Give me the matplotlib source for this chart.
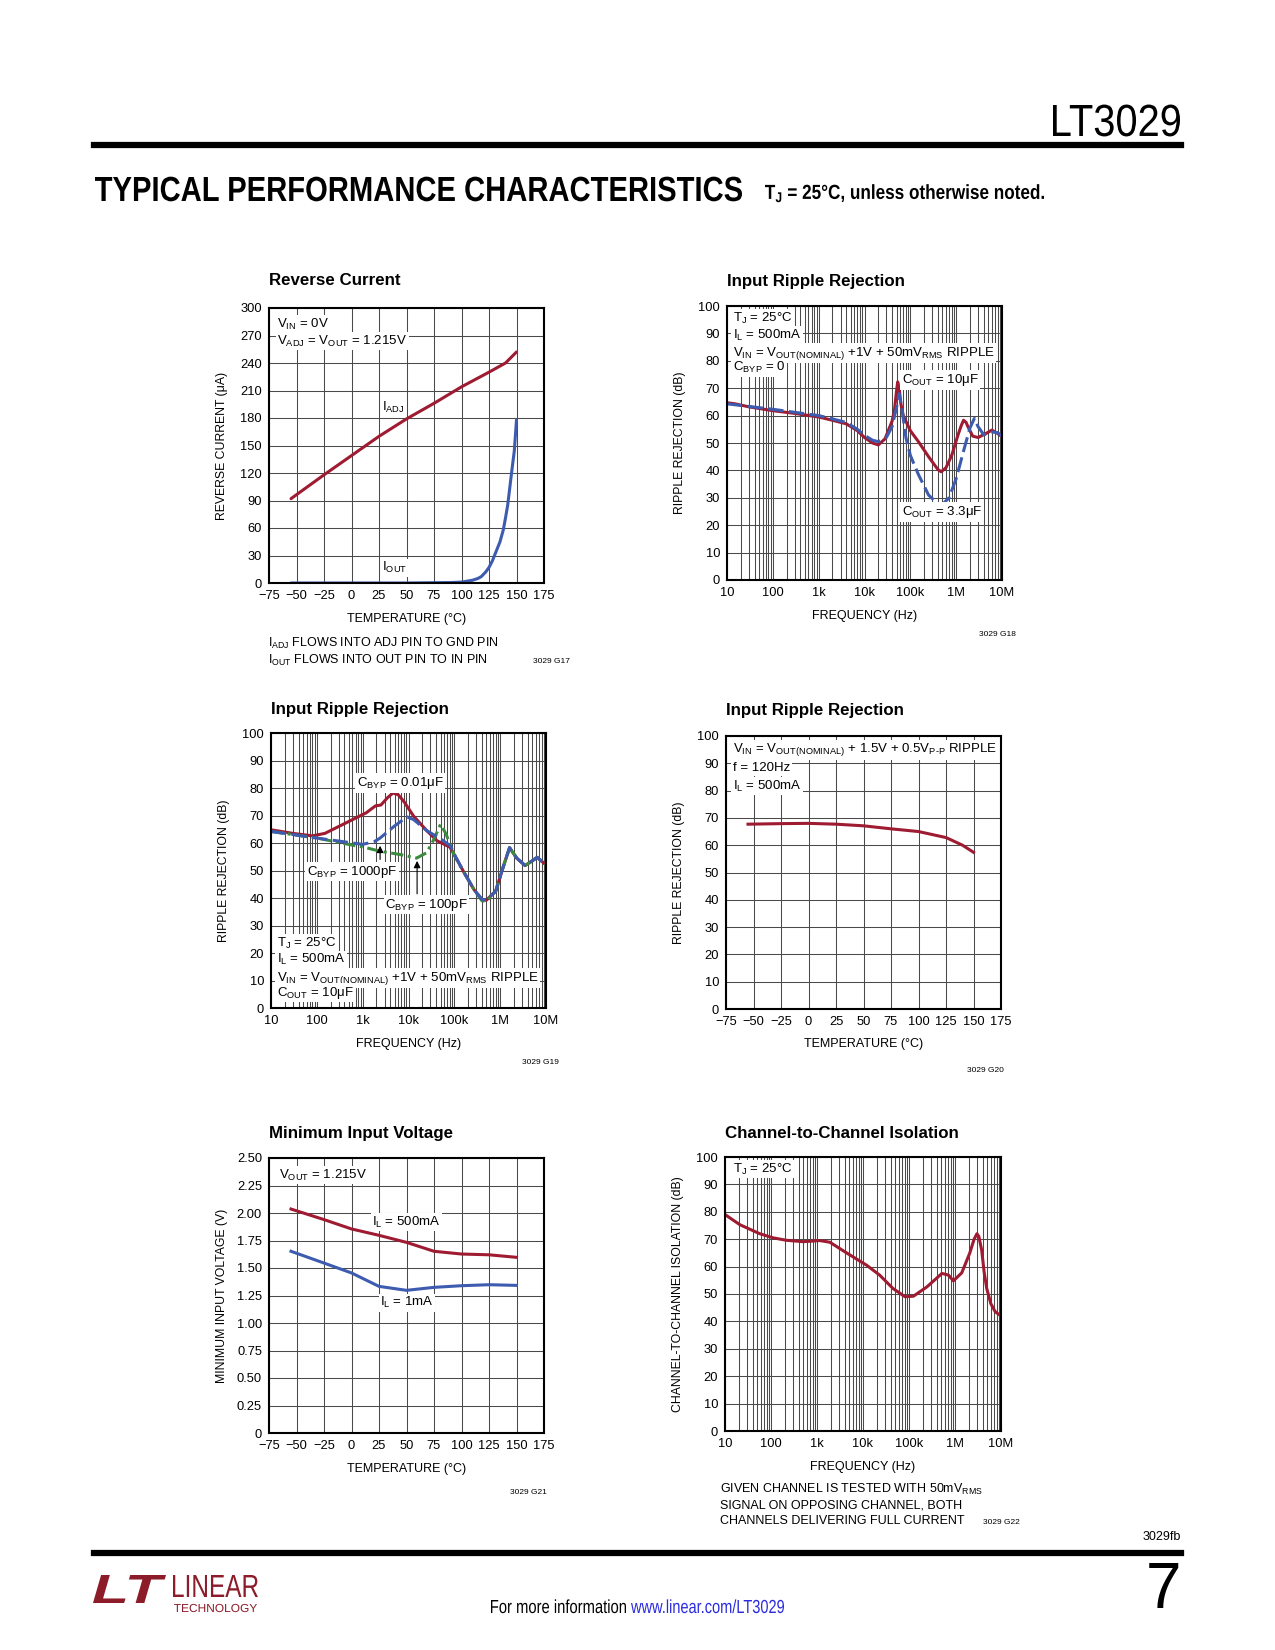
import matplotlib
matplotlib.use("Agg")
import matplotlib.pyplot as plt
from matplotlib.ticker import LogLocator, NullFormatter
from matplotlib.lines import Line2D
from matplotlib.textpath import TextPath
from matplotlib.patches import PathPatch
from matplotlib.font_manager import FontProperties
from matplotlib.transforms import Affine2D

BASE = "Liberation Sans"
plt.rcParams["font.family"] = [BASE, "DejaVu Sans"]
plt.rcParams["mathtext.default"] = "regular"

RED = "#9E1B32"
BLUE = "#3D5BAF"
GREEN = "#3C8C3F"
GRID = "#4a4a4a"

# ---------------- data ----------------
# reverse current vs temperature
rc_temp_adj = [-55, -25, 0, 25, 50, 75, 100, 125, 140, 150]
rc_iadj = [92, 118, 139, 160, 179, 196, 214, 230, 240, 252]
rc_temp_out = [-55, 0, 50, 90, 100, 105, 110, 115, 118, 122, 125, 128, 132, 135, 138,
               140, 142, 145, 146, 148, 150]
rc_iout = [0, 0, 0, 0.5, 1, 2, 3, 5, 7, 12, 17, 24, 36, 45, 58,
           71, 85, 115, 125, 144, 178]

# input ripple rejection, CBYP = 0
rr_freq_10u = [10, 15, 30, 100, 300, 1e3, 2e3, 4e3, 7e3, 1e4, 1.5e4, 2e4, 2.8e4, 4e4,
               4.5e4, 5e4, 5.3e4, 5.7e4, 6.2e4, 7e4, 1e5, 1.5e5, 2.5e5, 4e5, 4.7e5, 6e5,
               8e5, 1.1e6, 1.3e6, 1.45e6, 1.65e6, 1.8e6, 2.3e6, 3e6, 4.5e6, 6e6, 8e6, 1e7]
rr_db_10u = [64.7, 64.3, 63.2, 61.8, 60.8, 59.5, 58.3, 57, 54.5, 52, 50, 49.3, 51.5, 58,
             62, 69, 72.3, 70, 64.5, 60, 54.5, 50.5, 45, 40.3, 39.5, 41,
             45.5, 53, 56.5, 58.3, 57.5, 56, 52.5, 52, 53.5, 54.7, 53.5, 52.3]
rr_freq_3u3 = [10, 100, 1e3, 2e3, 4e3, 7e3, 1e4, 1.5e4, 2e4, 3e4, 4e4, 5e4, 5.7e4, 6.5e4,
               8e4, 1e5, 1.5e5, 2.5e5, 4e5, 5e5, 7e5, 1e6, 1.5e6, 2e6, 2.5e6, 3e6,
               4e6, 6e6, 8e6, 1e7]
rr_db_3u3 = [64.3, 62.3, 60, 58.8, 57.5, 55, 52.8, 51, 50.5, 52, 56, 63, 68, 63,
             52, 45.5, 38.5, 31, 27.8, 27.6, 30, 37, 48, 55.5, 59, 56,
             53, 54, 53.8, 52.5]

# input ripple rejection vs CBYP
cb_freq_10n = [10, 30, 80, 150, 300, 600, 1.2e3, 1.9e3, 2.5e3, 3.5e3, 4.6e3, 6e3, 8e3,
               1.3e4, 2.5e4, 4.2e4, 8e4, 1.1e5, 1.6e5, 2.7e5, 4e5, 5e5, 8e5, 1.1e6,
               1.6e6, 2.3e6, 3.5e6, 5e6, 6.4e6, 1e7]
cb_db_10n = [64.8, 63.5, 62.6, 63.5, 66, 68.5, 71, 73.5, 73.8, 76.5, 78.2, 77.5, 75,
             69.7, 64.5, 60.8, 58.5, 54.5, 49.5, 43, 39.5, 39.2, 42.5, 50,
             58.3, 54.5, 51.8, 53.5, 54.8, 52]
cb_freq_1n = [10, 100, 1e3, 1.8e3, 2.4e3, 4.8e3, 9.2e3, 1.3e4, 2.5e4, 5e4, 8.2e4, 1.1e5,
              1.6e5, 2.7e5, 4e5, 5e5, 8e5, 1.1e6, 1.6e6, 2.3e6, 3.5e6, 5e6, 6.4e6, 1e7]
cb_db_1n = [64.2, 61.8, 59.5, 60.5, 61.8, 66, 69.5, 68.5, 64.5, 61.5, 59, 54.5,
            49.5, 43, 39.5, 39.2, 42.5, 50, 58.3, 54.5, 51.8, 53.5, 54.8, 52]
cb_freq_100p = [10, 100, 700, 1e3, 2.4e3, 6.6e3, 1.5e4, 2.5e4, 3.5e4, 5e4, 6.5e4, 1e5,
                1.6e5, 2.7e5, 4e5, 5e5, 8e5, 1.1e6, 1.6e6, 2.3e6, 3.5e6, 5e6, 6.4e6, 1e7]
cb_db_100p = [64.2, 61.8, 59, 58.6, 57, 55.8, 54.5, 56.5, 61, 66.8, 63.5, 55.5,
              49.5, 43, 39, 38.8, 42.5, 50, 58.3, 54.5, 51.8, 53.5, 54.8, 52]

# ripple rejection vs temperature
rt_temp = [-55, -25, 0, 25, 50, 75, 100, 125, 140, 150]
rt_db = [67.7, 67.9, 68, 67.7, 67.1, 66, 65, 62.8, 60, 57.4]

# minimum input voltage
mv_temp = [-55, -25, 0, 25, 50, 75, 100, 125, 150]
mv_500ma = [2.036, 1.94, 1.855, 1.797, 1.733, 1.652, 1.627, 1.62, 1.597]
mv_1ma = [1.652, 1.545, 1.455, 1.333, 1.297, 1.324, 1.339, 1.348, 1.342]

# channel-to-channel isolation
ci_freq = [10, 21, 57, 111, 217, 500, 1.15e3, 1.9e3, 4.4e3, 1.2e4, 2.3e4, 4.5e4, 8.2e4,
           1.25e5, 2.45e5, 5.2e5, 7.2e5, 9.2e5, 1.4e6, 2.1e6, 2.6e6, 3e6, 3.3e6, 3.8e6,
           4.3e6, 4.9e6, 6e6, 7.5e6, 1e7]
ci_db = [79, 75.3, 72, 70.5, 69.6, 69.1, 69.5, 68.9, 65, 60.5, 56.9, 52, 49,
         49.2, 52.6, 57.5, 56.9, 54.8, 57.7, 65, 70, 72, 71, 66,
         58, 52, 46.5, 43.5, 42]

temp_ticks = list(range(-75, 176, 25))
freq_ticks = [10, 100, 1e3, 1e4, 1e5, 1e6, 1e7]
freq_labels = ["10", "100", "1k", "10k", "100k", "1M", "10M"]
db_ticks = list(range(0, 101, 10))
mv_ticks = [0, 0.25, 0.5, 0.75, 1.0, 1.25, 1.5, 1.75, 2.0, 2.25, 2.5]
mv_labels = ["0", "0.25", "0.50", "0.75", "1.00", "1.25", "1.50", "1.75", "2.00", "2.25", "2.50"]

FS_TICK = 9.3
FS_NOTE = 9.5
FS_LAB = 9.0


def sub(s):
    return r"$\mathregular{_{" + s + "}}$"


# ---------------- figure ----------------
W, H = 1275, 1650
fig = plt.figure(figsize=(W / 100, H / 100), dpi=100)


def ftext(x, y, s, **kw):
    return fig.text(x / W, 1 - y / H, s, **kw)


def path_text(x0, x1, y_base, cap_h, s, color="black", weight="normal", style="normal"):
    # text drawn as a path, squeezed to the width the page uses
    prop = FontProperties(family=BASE, weight=weight, style=style)
    tp = TextPath((0, 0), s, size=1, prop=prop)
    ref_h = TextPath((0, 0), "H", size=1, prop=prop).get_extents().height
    ext = tp.get_extents()
    sx = (x1 - x0) / ext.width
    sy = cap_h / ref_h
    tr = (Affine2D().translate(-ext.x0, 0).scale(sx / W, sy / H)
          .translate(x0 / W, 1 - y_base / H) + fig.transFigure)
    fig.add_artist(PathPatch(tp, transform=tr, fc=color, ec="none", lw=0))


def add_ax(l, t, r, b):
    return fig.add_axes([l / W, 1 - b / H, (r - l) / W, (b - t) / H])


BOX = dict(boxstyle="square,pad=0.12", fc="white", ec="none")


def style(ax, title, ylabel, xlabel, title_gap):
    ax.grid(True, which="both", color=GRID, lw=0.75)
    ax.set_axisbelow(True)
    for sp in ax.spines.values():
        sp.set_linewidth(1.5)
        sp.set_color("black")
    ax.tick_params(which="both", length=0, labelsize=FS_TICK, pad=5)
    ax.text(0, 1 + title_gap, title, transform=ax.transAxes, fontsize=12.2,
            fontweight="bold", ha="left", va="center")
    ax.text(-0.17, 0.5, ylabel, transform=ax.transAxes, rotation=90,
            fontsize=8.8, ha="center", va="center")
    ax.text(0.5, -0.13, xlabel, transform=ax.transAxes, fontsize=FS_LAB,
            ha="center", va="center")


def note(ax, x, y, s):
    ax.text(x, y, s, transform=ax.transAxes, fontsize=FS_NOTE, va="center", bbox=BOX)


def temp_axis(ax):
    ax.set_xlim(-75, 175)
    ax.set_xticks(temp_ticks)


def freq_axis(ax):
    ax.set_xscale("log")
    ax.set_xlim(10, 1e7)
    ax.set_xticks(freq_ticks)
    ax.set_xticklabels(freq_labels)
    ax.xaxis.set_minor_locator(LogLocator(base=10, subs=range(2, 10)))
    ax.xaxis.set_minor_formatter(NullFormatter())


VIN_1V = ("V" + sub("IN") + " = V" + sub("OUT(NOMINAL)") + " +1V + 50mV" + sub("RMS")
          + " RIPPLE")

# --- Reverse Current
ax1 = add_ax(269, 308, 544, 583)
temp_axis(ax1)
ax1.set_ylim(0, 300)
ax1.set_yticks(range(0, 301, 30))
ax1.plot(rc_temp_adj, rc_iadj, color=RED, lw=2.2, solid_capstyle="round")
ax1.plot(rc_temp_out, rc_iout, color=BLUE, lw=2.2, solid_capstyle="round")
style(ax1, "Reverse Current", "REVERSE CURRENT (μA)", "TEMPERATURE (°C)", 0.10)
note(ax1, 0.03, 0.94, "V" + sub("IN") + " = 0V")
note(ax1, 0.03, 0.88, "V" + sub("ADJ") + " = V" + sub("OUT") + " = 1.215V")
note(ax1, 0.412, 0.637, "I" + sub("ADJ"))
note(ax1, 0.412, 0.055, "I" + sub("OUT"))
ftext(268, 643, "I" + sub("ADJ") + " FLOWS INTO ADJ PIN TO GND PIN", fontsize=9, va="center")
ftext(268, 660, "I" + sub("OUT") + " FLOWS INTO OUT PIN TO IN PIN", fontsize=9, va="center")
ftext(551, 662, "3029 G17", fontsize=6, ha="center", va="center")

# --- Input Ripple Rejection (COUT)
ax2 = add_ax(727, 306, 1002, 580)
freq_axis(ax2)
ax2.set_ylim(0, 100)
ax2.set_yticks(db_ticks)
ax2.plot(rr_freq_10u, rr_db_10u, color=RED, lw=2.2)
ax2.plot(rr_freq_3u3, rr_db_3u3, color=BLUE, lw=2.2, dashes=(5, 1.8))
style(ax2, "Input Ripple Rejection", "RIPPLE REJECTION (dB)", "FREQUENCY (Hz)", 0.088)
note(ax2, 0.022, 0.956, "T" + sub("J") + " = 25°C")
note(ax2, 0.022, 0.894, "I" + sub("L") + " = 500mA")
note(ax2, 0.022, 0.828, VIN_1V)
note(ax2, 0.022, 0.774, "C" + sub("BYP") + " = 0")
note(ax2, 0.636, 0.73, "C" + sub("OUT") + " = 10μF")
note(ax2, 0.636, 0.248, "C" + sub("OUT") + " = 3.3μF")
ftext(997, 635, "3029 G18", fontsize=6, ha="center", va="center")

# --- Input Ripple Rejection (CBYP)
ax3 = add_ax(271, 733, 546, 1008)
freq_axis(ax3)
ax3.set_ylim(0, 100)
ax3.set_yticks(db_ticks)
ax3.plot(cb_freq_10n, cb_db_10n, color=RED, lw=2.2)
ax3.plot(cb_freq_100p, cb_db_100p, color=GREEN, lw=2.2, dashes=(4, 1.5, 1, 1.5))
ax3.plot(cb_freq_1n, cb_db_1n, color=BLUE, lw=2.2, dashes=(5, 1.8))
style(ax3, "Input Ripple Rejection", "RIPPLE REJECTION (dB)", "FREQUENCY (Hz)", 0.085)
note(ax3, 0.313, 0.818, "C" + sub("BYP") + " = 0.01μF")
note(ax3, 0.131, 0.495, "C" + sub("BYP") + " = 1000pF")
note(ax3, 0.415, 0.375, "C" + sub("BYP") + " = 100pF")
ax3.annotate("", xy=(2400, 60), xytext=(2400, 53),
             arrowprops=dict(arrowstyle="-|>", color="black", lw=0.8, mutation_scale=10))
ax3.annotate("", xy=(15400, 54.5), xytext=(15400, 40.5),
             arrowprops=dict(arrowstyle="-|>", color="black", lw=0.8, mutation_scale=10))
note(ax3, 0.022, 0.236, "T" + sub("J") + " = 25°C")
note(ax3, 0.022, 0.175, "I" + sub("L") + " = 500mA")
note(ax3, 0.022, 0.109, VIN_1V)
note(ax3, 0.022, 0.055, "C" + sub("OUT") + " = 10μF")
ftext(540, 1062, "3029 G19", fontsize=6, ha="center", va="center")

# --- Input Ripple Rejection vs temperature
ax4 = add_ax(726, 736, 1001, 1009)
temp_axis(ax4)
ax4.set_ylim(0, 100)
ax4.set_yticks(db_ticks)
ax4.plot(rt_temp, rt_db, color=RED, lw=2.2)
style(ax4, "Input Ripple Rejection", "RIPPLE REJECTION (dB)", "TEMPERATURE (°C)", 0.092)
note(ax4, 0.025, 0.949, "V" + sub("IN") + " = V" + sub("OUT(NOMINAL)") + " + 1.5V + 0.5V"
     + sub("P\u2010P") + " RIPPLE")
note(ax4, 0.025, 0.883, "f = 120Hz")
note(ax4, 0.025, 0.817, "I" + sub("L") + " = 500mA")
ftext(985, 1070, "3029 G20", fontsize=6, ha="center", va="center")

# --- Minimum Input Voltage
ax5 = add_ax(269, 1158, 544, 1433)
temp_axis(ax5)
ax5.set_ylim(0, 2.5)
ax5.set_yticks(mv_ticks)
ax5.set_yticklabels(mv_labels)
ax5.plot(mv_temp, mv_500ma, color=RED, lw=2.2)
ax5.plot(mv_temp, mv_1ma, color=BLUE, lw=2.2)
style(ax5, "Minimum Input Voltage", "MINIMUM INPUT VOLTAGE (V)", "TEMPERATURE (°C)", 0.088)
note(ax5, 0.036, 0.938, "V" + sub("OUT") + " = 1.215V")
note(ax5, 0.375, 0.767, "I" + sub("L") + " = 500mA")
note(ax5, 0.404, 0.473, "I" + sub("L") + " = 1mA")
ftext(528, 1493, "3029 G21", fontsize=6, ha="center", va="center")

# --- Channel-to-Channel Isolation
ax6 = add_ax(725, 1157, 1001, 1431)
freq_axis(ax6)
ax6.set_ylim(0, 100)
ax6.set_yticks(db_ticks)
ax6.plot(ci_freq, ci_db, color=RED, lw=2.2)
style(ax6, "Channel-to-Channel Isolation", "CHANNEL-TO-CHANNEL ISOLATION (dB)",
      "FREQUENCY (Hz)", 0.085)
note(ax6, 0.029, 0.956, "T" + sub("J") + " = 25°C")
ftext(720, 1489, "GIVEN CHANNEL IS TESTED WITH 50mV" + sub("RMS"), fontsize=9, va="center")
ftext(720, 1505, "SIGNAL ON OPPOSING CHANNEL, BOTH", fontsize=9, va="center")
ftext(720, 1521, "CHANNELS DELIVERING FULL CURRENT", fontsize=9, va="center")
ftext(1001, 1523, "3029 G22", fontsize=6, ha="center", va="center")

# ---------------- page header / footer ----------------
path_text(1053, 1180, 136, 31, "LT3029")
fig.add_artist(Line2D([94 / W, 1181 / W], [1 - 144.5 / H] * 2, color="black", lw=4.5))
path_text(95, 742, 201, 24, "TYPICAL PERFORMANCE CHARACTERISTICS", weight="bold")
path_text(765, 1044, 199, 14, "T" + sub("J") + " = 25°C, unless otherwise noted.",
          weight="bold")

ftext(1181, 1537, "3029fb", fontsize=9, ha="right", va="center")
fig.add_artist(Line2D([94 / W, 1181 / W], [1 - 1552.5 / H] * 2, color="black", lw=4.5))
ftext(1181, 1591, "7", fontsize=46, ha="right", va="center", fontweight="light")
path_text(491, 626, 1613, 13, "For more information")
path_text(631, 784, 1613, 13, "www.linear.com/LT3029", color="#2a2ae0")

LOGO = "#8C1C2A"
path_text(93, 166, 1603, 28, "LT", color=LOGO, weight="bold", style="italic")
path_text(173, 258, 1597, 22, "LINEAR", color=LOGO)
path_text(174, 257, 1612, 8, "TECHNOLOGY", color=LOGO)

fig.savefig("out.png", dpi=100)
